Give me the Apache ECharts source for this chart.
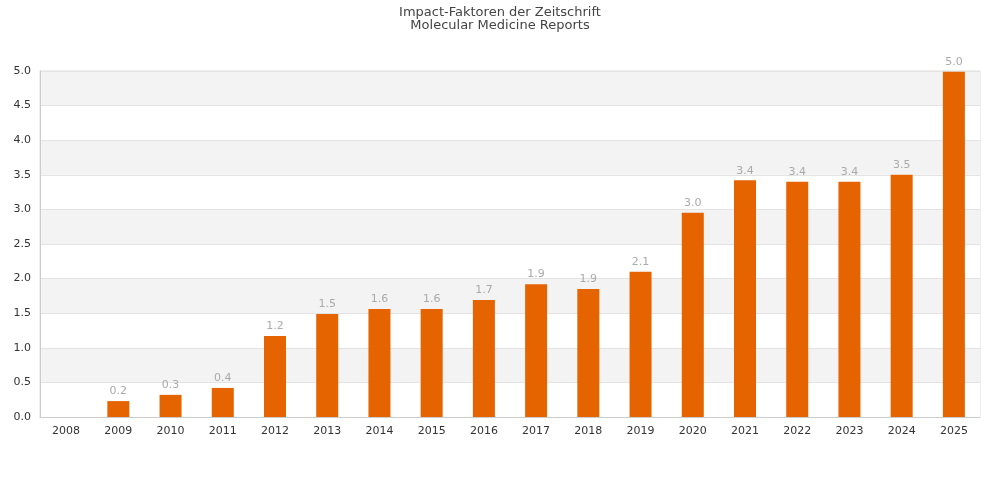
<!DOCTYPE html>
<html><head><meta charset="utf-8">
<script src="https://cdn.jsdelivr.net/npm/echarts@6/dist/echarts.min.js"></script>
<style>html,body{margin:0;padding:0;background:#fff}#c{width:1000px;height:500px}</style>
</head><body><div id="c"></div>
<script>
var years = ['2008','2009','2010','2011','2012','2013','2014','2015','2016','2017','2018','2019','2020','2021','2022','2023','2024','2025'];
var impact = [null,0.23,0.32,0.42,1.17,1.49,1.56,1.56,1.69,1.92,1.85,2.10,2.95,3.42,3.40,3.40,3.50,4.99];
var chart = echarts.init(document.getElementById('c'));
chart.setOption({
  animation:false,
  textStyle:{fontFamily:'DejaVu Sans'},
  title:{text:'Impact-Faktoren der Zeitschrift\nMolecular Medicine Reports',left:'center',top:6,padding:0,
    textStyle:{fontSize:13,fontWeight:'normal',color:'#444',lineHeight:13,fontFamily:'DejaVu Sans'}},
  grid:{left:40,right:20,top:71,bottom:83,show:true,borderColor:'#ddd',borderWidth:1,backgroundColor:'transparent'},
  xAxis:{type:'category',data:years,
    axisLine:{lineStyle:{color:'#ccc'}},axisTick:{show:false},
    axisLabel:{color:'#333',fontSize:11,margin:9}},
  yAxis:{type:'value',min:0,max:5,interval:0.5,
    axisLine:{show:true,lineStyle:{color:'#ccc'}},axisTick:{show:false},
    axisLabel:{color:'#333',fontSize:11,margin:9,formatter:function(v){return v.toFixed(1);}},
    splitLine:{lineStyle:{color:'#e3e3e3'}},
    splitArea:{show:true,areaStyle:{color:['#ffffff','#f3f3f3']}}},
  series:[{type:'bar',data:impact,barWidth:22,itemStyle:{color:'#e66400'},
    label:{show:true,position:'top',color:'#aaa',fontSize:11,distance:4,
      formatter:function(p){return p.value==null?'':p.value.toFixed(1);}}}]
});
</script></body></html>
